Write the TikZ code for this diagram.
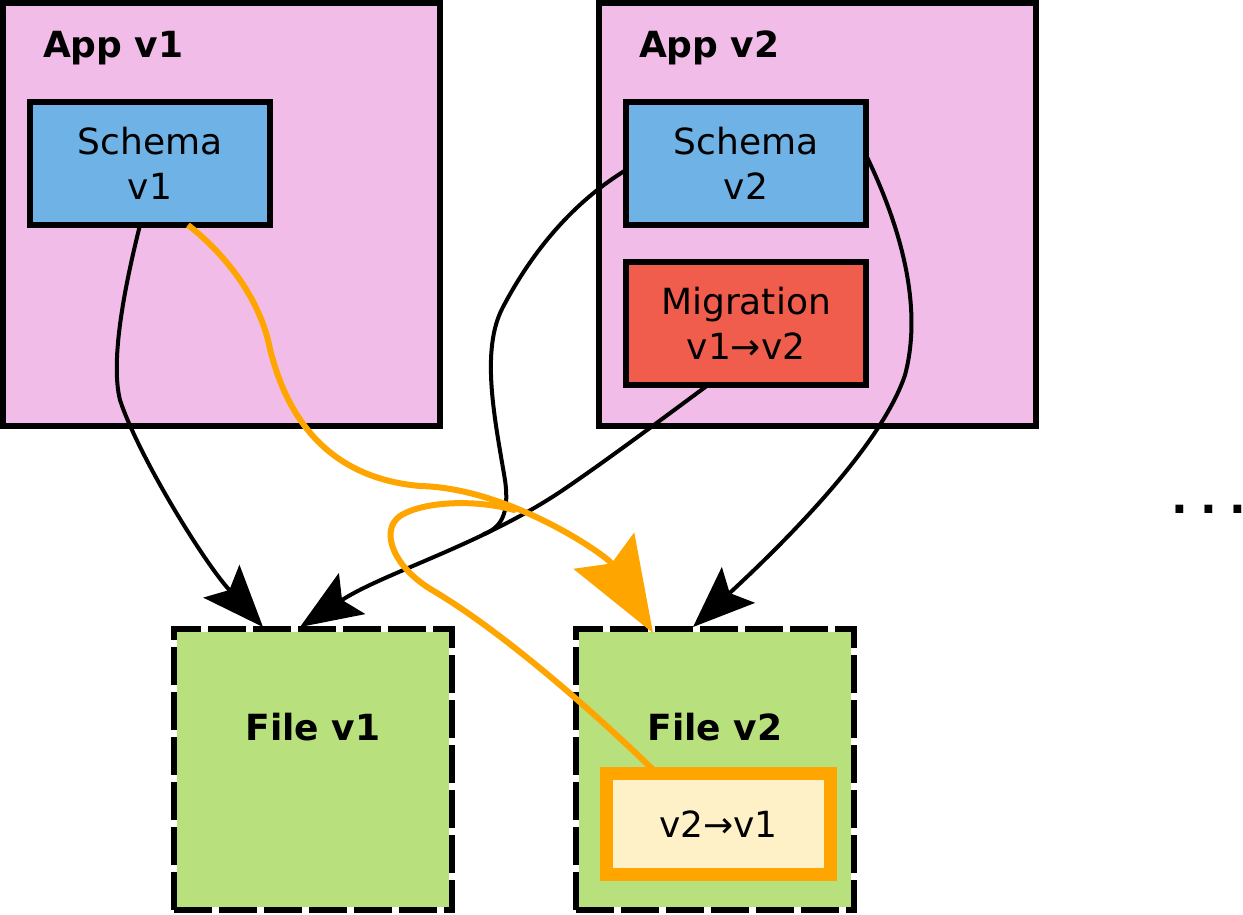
\documentclass[tikz,border=0pt]{standalone}
\usepackage{fontspec}
\setmainfont{DejaVu Sans}
\usetikzlibrary{arrows.meta,calc}
\definecolor{appPink}{RGB}{241,188,231}
\definecolor{schemaBlue}{RGB}{111,178,230}
\definecolor{migRed}{RGB}{240,93,76}
\definecolor{fileGreen}{RGB}{184,224,124}
\definecolor{creamC}{RGB}{255,241,199}
\definecolor{orangeC}{RGB}{255,165,0}
\tikzset{
  every node/.style={font=\fontsize{36}{45}\selectfont},
  appbox/.style={rectangle, draw=black, line width=6pt, fill=appPink, inner sep=0pt, outer sep=0pt, minimum width=437pt, minimum height=423pt},
  schemabox/.style={rectangle, draw=black, line width=6pt, fill=schemaBlue, inner sep=0pt, outer sep=0pt, minimum width=240pt, minimum height=123pt, align=center},
  migbox/.style={schemabox, fill=migRed},
  filebox/.style={rectangle, draw=black, line width=6pt, dash pattern=on 38pt off 7pt, preaction={draw=white, fill=fileGreen, solid}, inner sep=0pt, outer sep=0pt, minimum width=278pt, minimum height=281pt},
  revbox/.style={rectangle, draw=orangeC, line width=13pt, fill=creamC, inner sep=0pt, outer sep=0pt, minimum width=224pt, minimum height=101pt},
  lbl/.style={inner sep=0pt, outer sep=0pt},
  bedge/.style={draw=black, line width=4pt, -{Stealth[length=62pt, width=49pt, inset=12pt, line width=0pt]}},
  bline/.style={draw=black, line width=4pt, line cap=round},
  oedge/.style={draw=orangeC, line width=6pt, -{Stealth[length=96pt, width=71pt, inset=15pt, line width=0pt]}},
  oline/.style={draw=orangeC, line width=6pt, line cap=round},
}
\begin{document}
\begin{tikzpicture}[x=1pt, y=-1pt]
\useasboundingbox (0,0) rectangle (1243,914);
% containers
\node[appbox] (app1) at (221.5,214.5) {};
\node[appbox] (app2) at (817.5,214.5) {};
\node[lbl, anchor=base west] (app1l) at (43,57) {\bfseries App v1};
\node[lbl, anchor=base west] (app2l) at (639,57) {\bfseries App v2};
\node[schemabox] (s1) at (150,163.5) {Schema\\v1};
\node[schemabox] (s2) at (746,163.5) {Schema\\v2};
\node[migbox] (mig) at (746,323.5) {Migration\\v1→v2};
\node[filebox] (f1) at (313,769.5) {};
\node[filebox] (f2) at (715,769.5) {};
\node[lbl] (f1l) at (313,727) {\bfseries File v1};
\node[lbl] (f2l) at (715,727) {\bfseries File v2};
\node[revbox] (rev) at (718.5,824) {v2→v1};
\node[lbl, anchor=base west, font=\fontsize{44}{50}\selectfont\bfseries] (dots) at (1171,513) {.\kern12.3pt.\kern12.3pt.\kern-6pt};
% merge points
\coordinate (m1) at (484,534);
\coordinate (m2) at (514,510);
% black connectors
\draw[bedge] ($(s1.south)+(-10,0)$) .. controls (125,285) and (110,360) .. (120,400)
   .. controls (138,455) and (203,561) .. ($(f1.north)+(-50,-2)$);
\draw[bedge] ($(mig.south)+(-38,0)$) .. controls (650,428) and (600,465) .. (560,492)
   .. controls (480,545) and (384,573) .. ($(f1.north)+(-13,-2)$);
\draw[bline] ($(s2.west)+(0,6.5)$) .. controls (572,203) and (532,252) .. (503,307)
   .. controls (480,350) and (495,420) .. (505,480)
   .. controls (510,515) and (500,528) .. (m1);
\draw[bedge] ($(s2.east)+(0,-8.5)$) .. controls (895,215) and (925,300) .. (905,375)
   .. controls (880,450) and (774,552) .. ($(f2.north)+(-22,-2)$);
% orange connectors
\draw[oedge] ($(s1.south)+(38,0)$) .. controls (220,250) and (255,290) .. (268,340)
   .. controls (285,420) and (330,478) .. (420,486)
   .. controls (510,488) and (607,556) .. ($(f2.north)+(-62,4)$);
\draw[oline] ($(rev.north)+(-61.5,0)$) .. controls (590,708) and (500,630) .. (432,590)
   .. controls (392,566) and (380,530) .. (400,516)
   .. controls (425,500) and (480,500) .. (m2);
\end{tikzpicture}
\end{document}
